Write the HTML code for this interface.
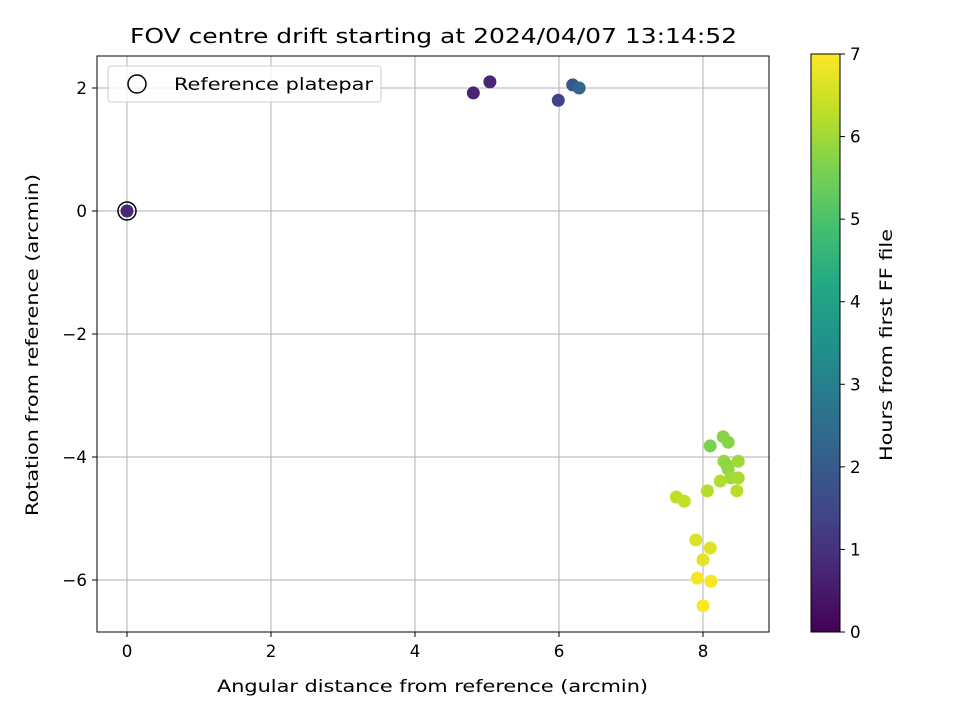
<!DOCTYPE html>
<html><head><meta charset="utf-8"><style>
body{margin:0;background:#fff;}
svg text{font-family:"DejaVu Sans","Liberation Sans",sans-serif;fill:#000;}
</style></head><body>
<svg id="c" width="960" height="720" xmlns="http://www.w3.org/2000/svg">
<defs><linearGradient id="vir" x1="0" y1="1" x2="0" y2="0">
<stop offset="0" stop-color="#440154"/><stop offset="0.1" stop-color="#482475"/><stop offset="0.2" stop-color="#414487"/><stop offset="0.3" stop-color="#355f8d"/><stop offset="0.4" stop-color="#2a788e"/><stop offset="0.5" stop-color="#21918c"/><stop offset="0.6" stop-color="#22a884"/><stop offset="0.7" stop-color="#44bf70"/><stop offset="0.8" stop-color="#7ad151"/><stop offset="0.9" stop-color="#bddf26"/><stop offset="1" stop-color="#fde725"/>
</linearGradient></defs>
<g id="grid"></g>
<g id="pts"></g>
<rect x="97" y="56" width="672" height="576" fill="none" stroke="#000" stroke-width="1"/>
<g id="ticks"></g>
<text x="130" y="43" style="font-size:20px" textLength="607" lengthAdjust="spacingAndGlyphs">FOV centre drift starting at 2024/04/07 13:14:52</text>
<text x="217" y="692" style="font-size:16.7px" textLength="431" lengthAdjust="spacingAndGlyphs">Angular distance from reference (arcmin)</text>
<text transform="translate(38,516) rotate(-90)" style="font-size:16.7px" textLength="342" lengthAdjust="spacingAndGlyphs">Rotation from reference (arcmin)</text>
<g>
<rect x="108" y="66" width="273" height="36" rx="3" fill="#fff" fill-opacity="0.8" stroke="#ccc"/>
<circle cx="137" cy="84" r="9" fill="none" stroke="#000" stroke-width="1.5"/>
<text x="174" y="90" style="font-size:16.7px" textLength="199" lengthAdjust="spacingAndGlyphs">Reference platepar</text>
</g>
<g>
<rect x="811" y="54" width="29" height="578" fill="url(#vir)" stroke="#000" stroke-width="1"/>
<g id="cbt"></g>
<text transform="translate(892,461) rotate(-90)" style="font-size:16.7px" textLength="232" lengthAdjust="spacingAndGlyphs">Hours from first FF file</text>
</g>
</svg>
<script>
const xs=[0,4.81,5.04,5.99,6.19,6.28,8.10,8.28,8.35,8.29,8.33,8.49,8.35,8.39,8.49,8.24,8.06,8.47,7.63,7.74,7.90,8.10,8.00,7.92,8.11,8.00];
const ys=[0,1.92,2.10,1.80,2.05,2.00,-3.82,-3.67,-3.76,-4.07,-4.13,-4.07,-4.20,-4.34,-4.34,-4.39,-4.55,-4.55,-4.65,-4.72,-5.35,-5.48,-5.67,-5.97,-6.02,-6.42];
const hours=[0.8,0.7,0.75,1.4,1.9,2.3,5.6,5.7,5.75,5.9,5.8,6.0,5.85,6.0,6.1,6.2,6.2,6.25,6.3,6.35,6.6,6.65,6.7,6.9,6.95,7.0];
const xTicks=[0,2,4,6,8];
const yTicks=[2,0,-2,-4,-6];
const cTicks=[0,1,2,3,4,5,6,7];
const NS="http://www.w3.org/2000/svg";
const sx=v=>127+v*72, sy=v=>211-v*61.5, sc=v=>632-v*(578/7);
const stops=["#440154","#482475","#414487","#355f8d","#2a788e","#21918c","#22a884","#44bf70","#7ad151","#bddf26","#fde725"];
function hex(h){return [1,3,5].map(i=>parseInt(h.substr(i,2),16));}
function vir(t){t=Math.max(0,Math.min(1,t))*10;const i=Math.min(9,Math.floor(t)),f=t-i;const a=hex(stops[i]),b=hex(stops[i+1]);return "rgb("+a.map((v,k)=>Math.round(v+(b[k]-v)*f)).join(",")+")";}
function mk(tag,at,parent){const e=document.createElementNS(NS,tag);for(const k in at)e.setAttribute(k,at[k]);parent.appendChild(e);return e;}
const G=document.getElementById("grid"),T=document.getElementById("ticks"),P=document.getElementById("pts"),C=document.getElementById("cbt");
xTicks.forEach(v=>{const x=sx(v);
 const g=mk("line",{x1:x,x2:x,y1:56,y2:632,stroke:"#b0b0b0","stroke-width":1},G);
 
 
 mk("line",{x1:x,x2:x,y1:632,y2:637,stroke:"#000"},T);
 const t=mk("text",{x:x,y:657,style:"font-size:16.7px","text-anchor":"middle"},T);t.textContent=v;
 
 });
yTicks.forEach(v=>{const y=sy(v);
 const g=mk("line",{x1:97,x2:769,y1:y,y2:y,stroke:"#b0b0b0","stroke-width":1},G);
 
 
 mk("line",{x1:92,x2:97,y1:y,y2:y,stroke:"#000"},T);
 const t=mk("text",{x:87,y:y+6,style:"font-size:16.7px","text-anchor":"end"},T);t.textContent=(v<0?"\u2212"+(-v):v);
 
 });
cTicks.forEach(v=>{const y=sc(v);
 mk("line",{x1:840,x2:845,y1:y,y2:y,stroke:"#000"},C);
 const t=mk("text",{x:850,y:y+6,style:"font-size:16.7px"},C);t.textContent=v;
 
 });
xs.forEach((v,i)=>{const c=mk("circle",{cx:sx(v),cy:sy(ys[i]),r:6.5,fill:vir(hours[i]/7)},P);
 
 });
const ref=mk("circle",{cx:sx(0),cy:sy(0),r:9,fill:"none",stroke:"#000","stroke-width":1.5},P);


</script>
</body></html>
